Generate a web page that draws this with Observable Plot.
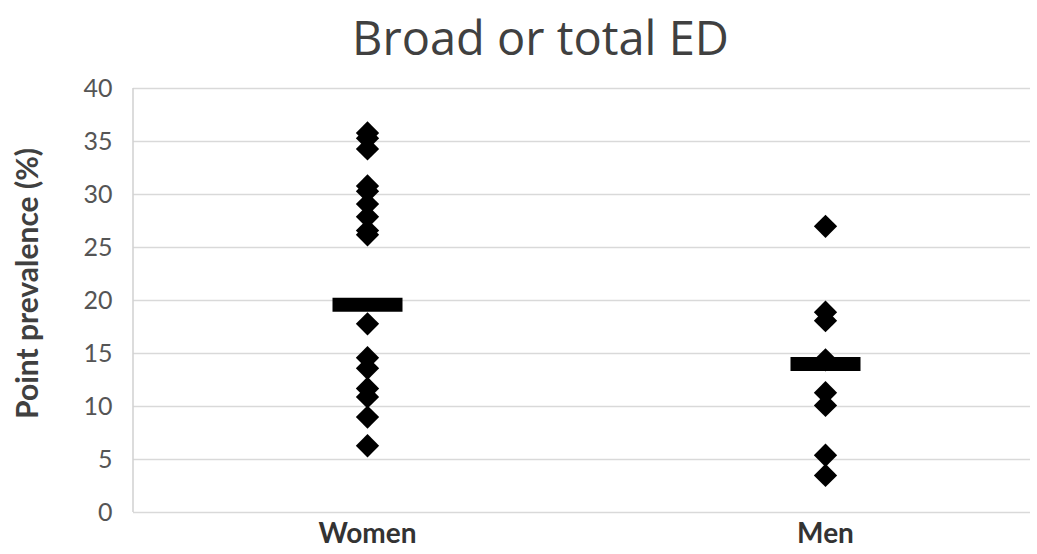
<!DOCTYPE html>
<html><head><meta charset="utf-8">
<script src="https://cdn.jsdelivr.net/npm/d3@7"></script>
<script src="https://cdn.jsdelivr.net/npm/@observablehq/plot@0.6"></script>
<style>
body{margin:0;background:#fff;font-family:Lato,sans-serif;}
#title{height:70px;line-height:74px;font-family:"Open Sans",sans-serif;font-size:47px;color:#404040;text-align:center;padding-left:44px;box-sizing:border-box;width:1037px;white-space:nowrap;}
#chart svg{display:block;}
</style></head><body>
<div id="title">Broad or total ED</div>
<div id="chart"></div>
<script>
const groups = ["Women", "Men"];
const womenValues = [35.8, 35.3, 34.3, 30.8, 30.3, 29.1, 27.9, 26.6, 26.2, 17.8, 14.6, 13.6, 11.7, 10.9, 9.0, 6.3];
const menValues = [27.0, 18.9, 18.1, 14.4, 11.3, 10.1, 5.4, 3.5];
const pooledValues = [19.6, 14.0];
const yTicks = [0, 5, 10, 15, 20, 25, 30, 35, 40];

const points = [
  ...womenValues.map(v => ({group: "Women", value: v})),
  ...menValues.map(v => ({group: "Men", value: v}))
];
const pooled = groups.map((g, i) => ({group: g, value: pooledValues[i]}));

const barSymbol = {draw(ctx) { ctx.rect(-35, -7, 70, 14); }};

// left axis line drawn from the y scale
const leftLine = (index, scales, values, dims) => {
  const y = scales.y;
  const l = document.createElementNS("http://www.w3.org/2000/svg", "line");
  l.setAttribute("x1", dims.marginLeft);
  l.setAttribute("x2", dims.marginLeft);
  l.setAttribute("y1", y(d3.max(yTicks)));
  l.setAttribute("y2", y(0));
  l.setAttribute("stroke", "#d0d0d0");
  l.setAttribute("stroke-width", 1.5);
  return l;
};

const chart = Plot.plot({
  width: 1037,
  height: 484,
  marginTop: 18,
  marginBottom: 42,
  marginLeft: 133,
  marginRight: 7,
  style: {fontFamily: "Lato, sans-serif", background: "#fff", overflow: "visible"},
  x: {type: "point", domain: groups, range: [367, 825], padding: 0, label: null},
  y: {domain: [0, 40], ticks: yTicks, label: null},
  marks: [
    Plot.gridY(yTicks, {stroke: "#d9d9d9", strokeOpacity: 1, strokeWidth: 1.5}),
    leftLine,
    Plot.axisY(yTicks, {tickSize: 0, tickPadding: 21, fill: "#555", fontSize: 25, label: null}),
    Plot.axisX(groups, {tickSize: 0, tickPadding: 11, fill: "#333", fontSize: 28, fontWeight: "bold", label: null}),
    Plot.text(["Point prevalence (%)"], {frameAnchor: "left", dx: -105, dy: -17, rotate: -90, textAnchor: "middle", fontSize: 30, fontWeight: "bold", fill: "#404040"}),
    Plot.dot(pooled, {x: "group", y: "value", symbol: barSymbol, fill: "black", stroke: "none"}),
    Plot.dot(points, {x: "group", y: "value", symbol: "diamond2", r: 10.5, fill: "black", stroke: "none"})
  ]
});
document.getElementById("chart").appendChild(chart);
</script>
</body></html>
